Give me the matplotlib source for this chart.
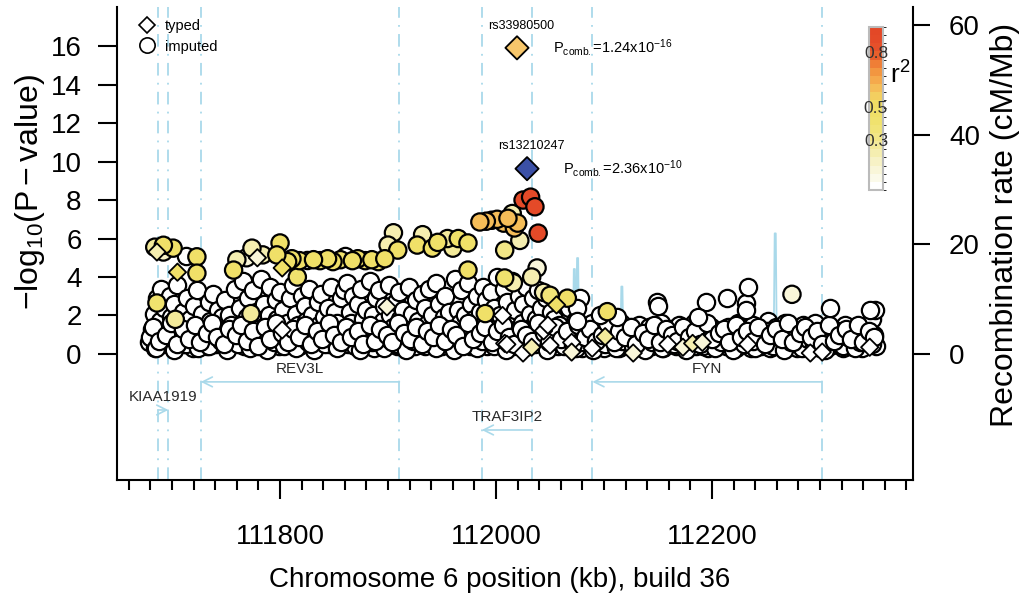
import numpy as np
import matplotlib
matplotlib.use('Agg')
import matplotlib.pyplot as plt
from matplotlib.colors import ListedColormap, BoundaryNorm
from matplotlib.lines import Line2D

plt.rcParams['font.family'] = ['Liberation Sans', 'DejaVu Sans']
plt.rcParams['mathtext.fontset'] = 'custom'
plt.rcParams['mathtext.rm'] = 'Liberation Sans'
plt.rcParams['mathtext.it'] = 'Liberation Sans:italic'
plt.rcParams['mathtext.default'] = 'regular'

# ---- imputed SNPs with r2 ~ 0 (position kb, -log10 p) ----
base_x_a = [111679, 111681, 111683, 111684, 111686, 111687, 111689, 111690, 111692, 111693,
            111695, 111696, 111698, 111699, 111701, 111702, 111704, 111705, 111707, 111708,
            111710, 111711, 111713, 111714, 111716, 111717, 111719, 111720, 111722, 111723,
            111725, 111726, 111728, 111729, 111731, 111732, 111734, 111735, 111737, 111738,
            111740, 111741, 111743, 111744, 111746, 111747, 111749, 111750, 111752, 111753,
            111755, 111756, 111758, 111759]
base_y_a = [0.6, 1.3, 2.1, 0.3, 2.9, 1.0, 1.7, 3.4, 0.5, 2.4,
            1.2, 0.8, 3.0, 1.9, 0.4, 2.6, 1.1, 3.6, 0.7, 1.6,
            2.2, 0.5, 1.4, 2.9, 0.9, 1.8, 0.3, 2.5, 1.2, 3.3,
            0.6, 1.5, 2.1, 0.9, 1.3, 0.4, 2.7, 1.7, 0.8, 3.1,
            1.2, 0.5, 2.3, 1.0, 1.9, 0.6, 2.8, 1.3, 0.4, 2.0,
            1.5, 0.8, 3.4, 1.1]

base_x_b = [111761, 111763, 111764, 111766, 111767, 111769, 111770, 111772, 111773, 111775,
            111776, 111778, 111779, 111781, 111782, 111784, 111785, 111787, 111788, 111790,
            111791, 111793, 111794, 111796, 111797, 111799, 111800, 111802, 111803, 111805,
            111806, 111808, 111809, 111811, 111812, 111814, 111815, 111817, 111818, 111820,
            111821, 111823, 111824, 111826, 111827, 111829, 111830, 111832, 111833, 111835,
            111836, 111838, 111839, 111841, 111842, 111844, 111845, 111847, 111848, 111850,
            111851, 111853, 111854, 111856, 111857, 111859]
base_y_b = [0.7, 2.4, 1.3, 3.8, 0.4, 1.9, 2.9, 1.0, 0.6, 3.3,
            1.6, 2.2, 0.5, 1.2, 3.9, 0.8, 2.6, 1.5, 0.3, 2.0,
            3.5, 1.1, 0.7, 2.8, 1.8, 0.4, 3.2, 1.3, 2.3, 0.9,
            1.6, 0.5, 2.9, 1.2, 3.6, 0.8, 2.1, 1.5, 0.4, 3.0,
            1.0, 2.5, 1.7, 0.6, 3.4, 1.3, 2.0, 0.9, 0.4, 2.7,
            1.5, 3.1, 0.7, 1.9, 1.1, 2.4, 0.5, 3.5, 1.4, 0.8,
            2.2, 1.6, 0.4, 2.9, 1.1, 3.3]

base_x_c = [111860, 111862, 111863, 111865, 111866, 111868, 111869, 111871, 111872, 111874,
            111875, 111877, 111878, 111880, 111881, 111883, 111884, 111886, 111887, 111889,
            111890, 111892, 111893, 111895, 111896, 111898, 111899, 111901, 111902, 111904,
            111905, 111907, 111908, 111910, 111911, 111913, 111914, 111916, 111917, 111919,
            111920, 111922, 111923, 111925, 111926, 111928, 111929, 111931, 111932, 111934,
            111935, 111937, 111938, 111940, 111941, 111943, 111944, 111946, 111947, 111949,
            111950, 111952, 111953, 111955, 111956, 111958]
base_y_c = [1.0, 3.7, 0.5, 2.2, 1.6, 3.0, 0.8, 1.3, 2.6, 0.4,
            3.4, 1.8, 1.0, 2.3, 0.6, 3.8, 1.4, 2.0, 0.3, 2.9,
            1.2, 3.3, 0.7, 1.7, 2.5, 0.5, 1.1, 3.6, 2.0, 0.8,
            1.4, 2.7, 0.4, 3.2, 1.8, 1.0, 2.3, 0.6, 1.5, 3.5,
            0.9, 2.1, 1.3, 0.4, 2.8, 1.7, 0.8, 3.1, 1.2, 2.4,
            0.5, 1.6, 3.4, 1.0, 2.0, 0.6, 3.7, 1.4, 2.6, 0.9,
            0.4, 1.9, 3.0, 1.2, 2.2, 0.7]

base_x_d = [111961, 111962, 111964, 111965, 111967, 111968, 111970, 111971, 111973, 111974,
            111976, 111977, 111979, 111980, 111982, 111983, 111985, 111986, 111988, 111989,
            111991, 111992, 111994, 111995, 111997, 111998, 112000, 112001, 112003, 112004,
            112006, 112007, 112009, 112010, 112012, 112013, 112015, 112016, 112018, 112019,
            112021, 112022, 112024, 112025, 112027, 112028, 112030, 112031, 112033, 112034,
            112036, 112037, 112039, 112040, 112042, 112043, 112045, 112046, 112048, 112049,
            112051, 112052, 112054, 112055, 112057, 112058, 112060, 112061, 112063, 112064]
base_y_d = [1.1, 3.9, 0.5, 2.3, 1.6, 3.3, 0.8, 2.0, 1.3, 3.7,
            0.4, 2.6, 1.0, 1.8, 3.0, 0.6, 2.2, 1.4, 3.5, 0.9,
            2.8, 0.4, 1.7, 3.2, 1.2, 2.4, 0.7, 4.0, 1.5, 2.0,
            0.5, 3.4, 1.1, 2.7, 0.8, 1.9, 3.8, 0.4, 2.3, 1.3,
            3.0, 0.6, 1.6, 2.6, 1.0, 3.5, 0.4, 2.1, 1.4, 2.9,
            0.7, 1.8, 3.3, 1.1, 2.4, 0.5, 1.6, 2.9, 0.9, 1.3,
            2.2, 0.6, 1.8, 1.1, 0.4, 1.5, 0.8, 1.2, 0.5, 1.0]

base_x_e = [112066, 112068, 112071, 112073, 112075, 112078, 112080, 112082, 112084, 112087,
            112089, 112091, 112094, 112096, 112098, 112100, 112103, 112105, 112107, 112110,
            112112, 112114, 112116, 112119, 112121, 112123, 112126, 112128, 112130, 112132,
            112135, 112137, 112139, 112142, 112144, 112146, 112148, 112151, 112153, 112155,
            112158, 112160, 112162, 112164, 112167, 112169, 112171, 112174, 112176, 112178,
            112180, 112183, 112185, 112187, 112190, 112192, 112194, 112196, 112199, 112201,
            112203, 112206, 112208]
base_y_e = [1.2, 2.4, 0.5, 1.7, 0.9, 2.9, 0.3, 1.4, 1.0, 0.6,
            1.6, 0.4, 1.1, 0.7, 1.5, 0.3, 1.2, 0.8, 0.5, 1.4,
            0.9, 0.3, 1.6, 0.6, 1.1, 0.4, 1.3, 0.8, 0.5, 1.5,
            0.3, 1.0, 0.7, 1.4, 0.4, 1.2, 0.6, 0.9, 1.6, 0.3,
            1.1, 0.5, 1.3, 0.8, 0.4, 1.5, 0.6, 1.0, 0.3, 1.2,
            0.7, 1.6, 0.4, 0.9, 1.3, 0.5, 1.1, 0.3, 1.4, 0.8,
            0.5, 1.2, 0.9]

base_x_f = [112210, 112213, 112215, 112217, 112220, 112222, 112224, 112227, 112229, 112231,
            112233, 112236, 112238, 112240, 112243, 112245, 112247, 112250, 112252, 112254,
            112256, 112259, 112261, 112263, 112266, 112268, 112270, 112272, 112275, 112277,
            112279, 112282, 112284, 112286, 112289, 112291, 112293, 112295, 112298, 112300,
            112302, 112305, 112307, 112309, 112312, 112314, 112316, 112318, 112321, 112323,
            112325, 112328, 112330, 112332, 112334, 112337, 112339, 112341, 112344, 112346,
            112348, 112350, 112351, 112352]
base_y_f = [0.9, 0.4, 1.4, 0.6, 1.1, 0.3, 1.6, 0.8, 0.5, 1.3,
            0.9, 0.3, 1.5, 0.7, 1.0, 0.4, 1.2, 0.6, 1.7, 0.3,
            0.9, 1.4, 0.5, 1.1, 0.7, 1.6, 0.4, 1.0, 0.6, 1.3,
            0.3, 0.8, 1.5, 0.5, 1.2, 0.7, 0.4, 1.6, 0.9, 0.3,
            1.1, 0.6, 1.4, 0.4, 0.8, 1.2, 0.5, 1.0, 0.3, 1.5,
            0.7, 0.4, 1.1, 0.8, 0.5, 1.3, 0.3, 0.9, 1.2, 0.6,
            1.8, 1.0, 2.3, 0.4]

# the dense low band along the whole region
base_x_low = [111680, 111685, 111691, 111697, 111702, 111708, 111713, 111718, 111724, 111729,
              111734, 111740, 111745, 111751, 111756, 111761, 111767, 111772, 111778, 111783,
              111788, 111794, 111799, 111804, 111810, 111815, 111821, 111826, 111831, 111837,
              111842, 111847, 111853, 111858, 111864, 111869, 111874, 111880, 111885, 111891,
              111896, 111901, 111907, 111912, 111917, 111923, 111928, 111934, 111939, 111944,
              111950, 111955, 111961, 111966, 111971, 111977, 111982, 111987, 111993, 111998,
              112004, 112009, 112014, 112020, 112025, 112031, 112036, 112041, 112047, 112052,
              112057, 112063, 112068, 112074, 112079, 112084, 112090, 112095, 112101, 112106,
              112111, 112117, 112122, 112127, 112133, 112138, 112144, 112149, 112154, 112160,
              112165, 112170, 112176, 112181, 112187, 112192, 112197, 112203, 112208, 112213,
              112219, 112224, 112230, 112235, 112240, 112246, 112251, 112256, 112262, 112267,
              112273, 112278, 112283, 112289, 112294, 112299, 112305, 112310, 112316, 112321,
              112326, 112332, 112337, 112342, 112348]
base_y_low = [0.9, 0.3, 1.1, 0.6, 0.2, 1.0, 0.5, 1.2, 0.3, 0.8,
              0.4, 1.1, 0.7, 0.2, 0.9, 0.5, 1.2, 0.3, 0.7, 1.0,
              0.2, 0.6, 1.1, 0.4, 0.8, 0.3, 1.0, 0.6, 0.2, 1.2,
              0.5, 0.9, 0.3, 0.7, 1.1, 0.4, 0.2, 0.9, 0.6, 1.0,
              0.3, 0.8, 0.5, 1.2, 0.2, 0.7, 1.0, 0.4, 0.9, 0.3,
              1.1, 0.6, 0.2, 0.8, 0.5, 1.0, 0.3, 0.7, 1.2, 0.4,
              0.9, 0.2, 0.6, 1.1, 0.3, 0.8, 0.5, 1.0, 0.2, 0.7,
              1.2, 0.4, 0.9, 0.3, 0.6, 1.1, 0.2, 0.8, 0.5, 1.0,
              0.3, 0.7, 1.2, 0.4, 0.9, 0.2, 0.6, 1.1, 0.3, 0.8,
              0.5, 1.0, 0.2, 0.7, 1.2, 0.4, 0.9, 0.3, 0.6, 1.1,
              0.2, 0.8, 0.5, 1.0, 0.3, 0.7, 1.2, 0.4, 0.9, 0.2,
              0.6, 1.1, 0.3, 0.8, 0.5, 1.0, 0.2, 0.7, 1.2, 0.4,
              0.9, 0.3, 0.6, 1.1, 0.5]

base_x_low2 = [111682, 111688, 111694, 111699, 111705, 111710, 111716, 111721, 111726, 111732,
               111737, 111742, 111748, 111753, 111759, 111764, 111769, 111775, 111780, 111786,
               111791, 111796, 111802, 111807, 111812, 111818, 111823, 111829, 111834, 111839,
               111845, 111850, 111856, 111861, 111866, 111872, 111877, 111883, 111888, 111893,
               111899, 111904, 111909, 111915, 111920, 111926, 111931, 111936, 111942, 111947,
               111953, 111958, 111963, 111969, 111974, 111979, 111985, 111990, 111996, 112001,
               112006, 112012, 112017, 112023, 112028, 112033, 112039, 112044, 112049, 112055,
               112060, 112066, 112071, 112076, 112082, 112087, 112093, 112098, 112103, 112109,
               112114, 112119, 112125, 112130, 112136, 112141, 112146, 112152, 112157, 112163,
               112168, 112173, 112179, 112184, 112189, 112195, 112200, 112206, 112211, 112216,
               112222, 112227, 112232, 112238, 112243, 112249, 112254, 112259, 112265, 112270,
               112275, 112281, 112286, 112292, 112297, 112302, 112308, 112313, 112318, 112324,
               112329, 112335, 112340, 112345, 112350]
base_y_low2 = [1.4, 0.7, 1.0, 1.6, 0.5, 1.3, 0.8, 1.5, 0.6, 1.1,
               1.6, 0.9, 0.5, 1.3, 1.0, 1.5, 0.7, 1.2, 0.4, 1.4,
               0.8, 1.6, 1.1, 0.6, 1.3, 0.9, 1.5, 0.5, 1.2, 0.8,
               1.6, 1.0, 0.6, 1.4, 0.9, 1.2, 0.5, 1.5, 0.7, 1.3,
               1.0, 0.6, 1.6, 1.1, 0.8, 1.4, 0.5, 1.2, 0.9, 1.5,
               0.7, 1.3, 1.0, 0.4, 1.6, 0.8, 1.1, 1.4, 0.6, 1.2,
               1.5, 0.9, 0.5, 1.3, 1.0, 0.7, 1.6, 1.1, 0.6, 1.4,
               0.8, 1.2, 0.5, 1.5, 0.9, 1.3, 0.7, 1.0, 1.6, 0.6,
               1.2, 0.9, 1.4, 0.5, 1.1, 0.8, 1.5, 0.6, 1.3, 1.0,
               0.7, 1.4, 0.9, 1.2, 0.5, 1.6, 0.8, 1.1, 1.3, 0.6,
               1.5, 0.9, 1.2, 0.7, 1.4, 0.5, 1.0, 1.3, 0.8, 1.6,
               0.6, 1.1, 1.4, 0.9, 1.2, 0.5, 1.5, 0.7, 1.0, 1.3,
               0.8, 1.5, 0.6, 1.2, 0.9]

# scattered imputed SNPs with r2 ~ 0 above the main band
white_x = [111713, 111825, 111860, 112149, 112150, 112194, 112214, 112231, 112231, 112233,
           112309, 112346, 112096, 112112, 112187, 112075, 112075]
white_y = [5.1, 4.9, 5.1, 2.7, 2.5, 2.7, 2.9, 2.65, 2.3, 3.5,
           2.4, 2.3, 2.0, 1.9, 1.9, 2.4, 1.7]

# imputed SNPs in LD with the lead SNP
ld_x = [111684, 111692, 111701, 111692, 111723, 111723, 111757, 111760, 111769, 111774,
        111784, 111800, 111797, 111807, 111816, 111811, 111818, 111831, 111837, 111844,
        111849, 111856, 111867, 111872, 111879, 111885, 111891, 111897, 111900, 111905,
        111909, 111927, 111932, 111941, 111946, 111955, 111960, 111965, 111974, 111974,
        111985, 111991, 111996, 112001, 112007, 112011, 112020, 112017, 112015, 112022,
        112008, 112025, 112032, 112036, 112039, 112038, 112033, 112008, 112016, 112066,
        112050, 112103, 112044, 111686, 111773, 111990, 111703, 112274]
ld_y = [5.55, 5.65, 5.5, 5.3, 5.05, 4.2, 4.36, 4.9, 5.0, 5.5,
        5.15, 5.77, 5.15, 4.8, 4.0, 4.95, 4.85, 4.9, 4.85, 4.95,
        4.8, 4.9, 4.85, 4.95, 4.85, 4.9, 4.8, 4.95, 5.66, 6.3,
        5.4, 5.66, 6.2, 5.5, 5.8, 6.0, 5.5, 6.0, 5.77, 4.36,
        6.86, 6.9, 6.95, 7.0, 6.8, 7.05, 6.8, 6.55, 7.3, 5.9,
        5.4, 8.0, 8.15, 7.65, 6.28, 4.47, 4.0, 3.95, 3.7, 2.9,
        3.05, 2.2, 3.2, 2.65, 2.1, 2.1, 1.8, 3.1]
ld_r2 = [0.30, 0.45, 0.45, 0.18, 0.45, 0.45, 0.45, 0.20, 0.15, 0.20,
         0.20, 0.48, 0.48, 0.48, 0.42, 0.45, 0.45, 0.45, 0.42, 0.45,
         0.45, 0.42, 0.45, 0.45, 0.42, 0.45, 0.40, 0.45, 0.22, 0.20,
         0.45, 0.45, 0.20, 0.45, 0.48, 0.30, 0.25, 0.45, 0.45, 0.45,
         0.63, 0.63, 0.62, 0.63, 0.62, 0.63, 0.63, 0.62, 0.20, 0.22,
         0.35, 0.90, 0.90, 0.90, 0.90, 0.15, 0.20, 0.40, 0.20, 0.45,
         0.38, 0.45, 0.20, 0.40, 0.25, 0.45, 0.30, 0.12]

# typed SNPs (diamonds)
typed_x = [111686, 111705, 111779, 111802, 111802, 111899, 112006, 112008, 112010, 112025,
           112033, 112044, 112048, 112050, 112056, 112070, 112070, 112089, 112101, 112127,
           112159, 112173, 112182, 112191, 112233, 112291, 112302, 112346]
typed_y = [5.3, 4.25, 5.0, 4.47, 1.25, 2.45, 2.0, 0.55, 0.5, 0.05,
           0.35, 1.2, 1.5, 0.45, 2.55, 0.6, 0.1, 0.3, 0.9, 0.05,
           0.5, 0.35, 0.55, 0.6, 0.5, 0.05, 0.1, 0.35]
typed_r2 = [0.2, 0.45, 0.15, 0.45, 0, 0.15, 0, 0, 0, 0,
            0.2, 0, 0, 0, 0.45, 0, 0.12, 0, 0.3, 0.1,
            0, 0.15, 0.2, 0.15, 0, 0, 0, 0]

# lead SNPs
lead_names = ['rs33980500', 'rs13210247']
lead_x = [112019.4, 112028.7]
lead_y = [15.91, 9.63]
lead_p = ['1.24x10', '2.36x10']
lead_exp = ['-16', '-10']
lead_colors = ['#f6c66b', '#3b50a6']

# recombination rate (cM/Mb)
rec_x = [111678, 111720, 111780, 111850, 111920, 111990, 112040, 112071, 112072, 112073,
         112074, 112075, 112076, 112077, 112115, 112116, 112117, 112118, 112180, 112257,
         112258, 112259, 112260, 112320, 112356]
rec_y = [0.8, 0.5, 0.6, 0.4, 0.5, 0.4, 0.6, 0.5, 15.5, 15.5,
         0.8, 17.5, 17.5, 0.5, 0.4, 12.3, 12.3, 0.4, 0.3, 0.3,
         22.0, 22.0, 0.3, 0.4, 0.6]

# genes
gene_names = ['KIAA1919', 'REV3L', 'TRAF3IP2', 'FYN']
gene_start = [111686.8, 111726.6, 111986.8, 112089.2]
gene_end = [111696.6, 111910.5, 112033.6, 112301.6]
gene_strand = ['+', '-', '-', '-']
gene_row = [2, 1, 3, 1]
row_y = {1: -1.45, 2: -2.91, 3: -3.95}

# r2 colour scale
r2_colors = ['#ffffff', '#fbfaea', '#f9f6d9', '#f7f2c6', '#f5eeb0',
             '#f3ea9a', '#f2e686', '#f1e478', '#f0e26e', '#f0e068',
             '#f0dd64', '#f3cf60', '#f5bd58', '#f5a94c', '#f29640',
             '#ef7e36', '#e95f2c', '#e6502a', '#e44a28', '#e34827']
cmap = ListedColormap(r2_colors)
norm = BoundaryNorm(np.linspace(0, 1, 21), cmap.N)
blue = '#a9d9ea'

fig = plt.figure(figsize=(10.26, 6.07), dpi=100)
ax = fig.add_axes([0.1140, 0.2092, 0.7758, 0.7792])
ax2 = ax.twinx()
ax.set_zorder(ax2.get_zorder() + 1)
ax.patch.set_visible(False)

ax.set_xlim(111649, 112386)
ax.set_ylim(-6.55, 18.03)
ax2.set_ylim(-23.0, 63.3)

# recombination rate
ax2.plot(rec_x, rec_y, color=blue, lw=1.3)

# gene boundaries and arrows
for s, e in zip(gene_start, gene_end):
    for b in (s, e):
        ax.axvline(b, color=blue, lw=1.3, ls=(0, (7, 4, 1, 4)), zorder=1)
for name, s, e, strand, row in zip(gene_names, gene_start, gene_end, gene_strand, gene_row):
    y = row_y[row]
    tail, head = (s, e) if strand == '+' else (e, s)
    ax.annotate('', xy=(head, y), xytext=(tail, y),
                arrowprops=dict(arrowstyle='->,head_length=0.7,head_width=0.35',
                                color=blue, lw=1.2, shrinkA=0, shrinkB=0))
    ax.text((s + e) / 2, y + 0.66, name, ha='center', va='center',
            fontsize=11, color='#2a2a2a')

# points
pt = dict(s=155, edgecolors='black', linewidths=1.6)
for bx, by in [(base_x_a, base_y_a), (base_x_b, base_y_b), (base_x_c, base_y_c),
               (base_x_d, base_y_d), (base_x_e, base_y_e), (base_x_f, base_y_f),
               (base_x_low, base_y_low), (base_x_low2, base_y_low2)]:
    ax.scatter(bx, by, c='white', zorder=3, **pt)
ax.scatter(white_x, white_y, c='white', zorder=3, **pt)
order = np.argsort(ld_r2)
ax.scatter(np.array(ld_x)[order], np.array(ld_y)[order],
           c=cmap(norm(np.array(ld_r2)[order])), zorder=4, **pt)
ax.scatter(typed_x, typed_y, marker='D', s=78, c=cmap(norm(typed_r2)),
           edgecolors='black', linewidths=1.3, zorder=5)
ax.scatter(lead_x, lead_y, marker='D', s=140, c=lead_colors,
           edgecolors='black', linewidths=1.3, zorder=6)

for name, x, y, p, ex in zip(lead_names, lead_x, lead_y, lead_p, lead_exp):
    ax.annotate(name, xy=(x, y), xytext=(3, 16), textcoords='offset points',
                ha='center', va='center', fontsize=9)
    ax.annotate(r'P$_{comb.}$=%s$^{%s}$' % (p, ex), xy=(x, y), xytext=(26, 0),
                textcoords='offset points', ha='left', va='center', fontsize=10.5)

# axes styling
for sp in ['top', 'right']:
    ax.spines[sp].set_visible(False)
for sp in ['top', 'left', 'bottom']:
    ax2.spines[sp].set_visible(False)
for sp in [ax.spines['left'], ax.spines['bottom'], ax2.spines['right']]:
    sp.set_linewidth(1.5)

ax.set_yticks(range(0, 17, 2))
ax.tick_params(axis='y', length=13.5, width=1.5, pad=12, labelsize=20)
ax.set_xticks([111800, 112000, 112200])
ax.set_xticklabels(['111800', '112000', '112200'])
ax.set_xticks(np.arange(111660, 112381, 20), minor=True)
ax.tick_params(axis='x', which='major', length=13.5, width=1.5, pad=18, labelsize=20)
ax.tick_params(axis='x', which='minor', length=7, width=1.5)
ax2.set_yticks([0, 20, 40, 60])
ax2.tick_params(axis='y', length=12, width=1.5, pad=14, labelsize=20)

fig.text(500 / 1026, 1 - 580 / 607, 'Chromosome 6 position (kb), build 36',
         ha='center', va='center', fontsize=20)
fig.text(30 / 1026, 1 - 192 / 607, r'$\mathregular{-log_{10}(P - value)}$',
         rotation=90, ha='center', va='center', fontsize=23)
fig.text(1005 / 1026, 1 - 225 / 607, 'Recombination rate (cM/Mb)',
         rotation=90, ha='center', va='center', fontsize=23)

# legend
handles = [Line2D([], [], marker='D', ls='', mfc='white', mec='black', ms=8.5, mew=1.2),
           Line2D([], [], marker='o', ls='', mfc='white', mec='black', ms=11, mew=1.2)]
ax.legend(handles, ['typed', 'imputed'], loc='upper left', bbox_to_anchor=(140 / 1026, 1 - 19 / 607),
          bbox_transform=fig.transFigure, frameon=False, fontsize=10.5, handlelength=1,
          handletextpad=0.7, labelspacing=0.45, borderpad=0, borderaxespad=0)

# r2 colour bar
cax = fig.add_axes([869 / 1026, 1 - 190 / 607, 14 / 1026, 163 / 607])
cb = fig.colorbar(plt.cm.ScalarMappable(cmap=cmap, norm=norm), cax=cax)
cb.set_ticks([])
cb.outline.set_edgecolor('#bbbbbb')
cb.outline.set_linewidth(1.5)
for lab, pos in [('0.8', 0.84), ('0.5', 0.5), ('0.3', 0.3)]:
    cax.text(0.5, pos, lab, transform=cax.transAxes, ha='center', va='center',
             fontsize=12.5, color='#333333')
fig.text(900 / 1026, 1 - 75 / 607, r'$\mathregular{r^2}$', ha='center', va='center', fontsize=19)

fig.savefig('out.png', dpi=100)
